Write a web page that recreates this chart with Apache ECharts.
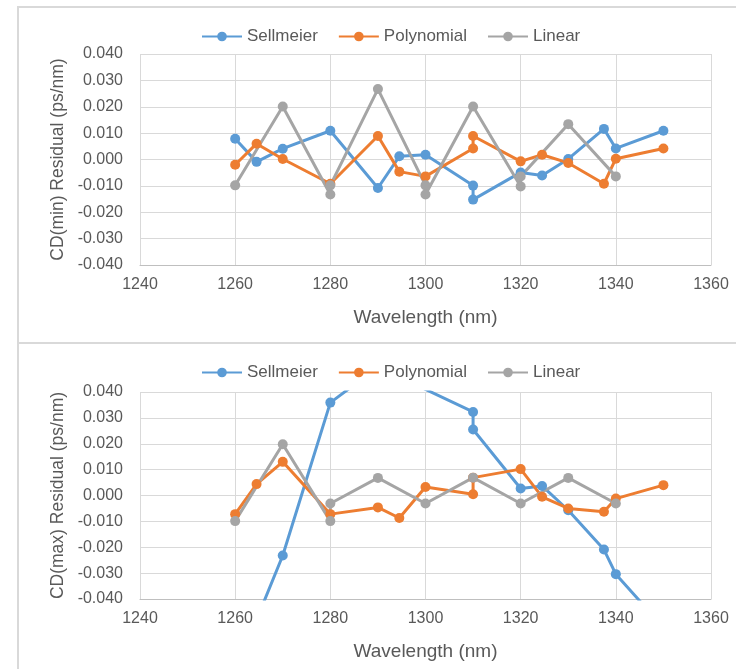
<!DOCTYPE html>
<html>
<head>
<meta charset="utf-8">
<script src="https://cdn.jsdelivr.net/npm/echarts@6/dist/echarts.min.js"></script>
<style>
  html, body { margin: 0; padding: 0; background: #fff; }
  #chart { width: 736px; height: 669px; }
</style>
</head>
<body>
<div id="chart"></div>
<script>
// wavelengths (nm) shared by Sellmeier and Polynomial fits
const wavelengths = [1260, 1264.5, 1270, 1280, 1290, 1294.5, 1300, 1310, 1310, 1320, 1324.5, 1330, 1337.5, 1340, 1350];

// CD(min) residuals
const minSellmeier = [0.0079, -0.0009, 0.0041, 0.0109, -0.0108, 0.0012, 0.0018, -0.0099, -0.0152, -0.0049, -0.0061, 0.0002, 0.0116, 0.0042, 0.0109];
const minPolynomial = [-0.002, 0.006, 0.0002, -0.0092, 0.0089, -0.0046, -0.0064, 0.0042, 0.0089, -0.0007, 0.0018, -0.0013, -0.0092, 0.0003, 0.0042];
const minLinearX = [1260, 1270, 1280, 1280, 1290, 1300, 1300, 1310, 1320, 1320, 1330, 1340];
const minLinear = [-0.0098, 0.0201, -0.0133, -0.0098, 0.0267, -0.0098, -0.0133, 0.0201, -0.0102, -0.0064, 0.0134, -0.0064];

// CD(max) residuals
const maxSellmeier = [-0.062, -0.048, -0.0232, 0.0359, 0.0496, 0.047, 0.041, 0.0323, 0.0255, 0.0027, 0.0037, -0.0057, -0.0209, -0.0304, -0.051];
const maxPolynomial = [-0.0072, 0.0044, 0.013, -0.0072, -0.0046, -0.0087, 0.0033, 0.0005, 0.0069, 0.0102, -0.0005, -0.005, -0.0063, -0.0012, 0.004];
const maxLinearX = [1260, 1270, 1280, 1280, 1290, 1300, 1310, 1320, 1330, 1340];
const maxLinear = [-0.0099, 0.0198, -0.0099, -0.0031, 0.0068, -0.0031, 0.0069, -0.0031, 0.0068, -0.0031];

const seriesNames = ["Sellmeier", "Polynomial", "Linear"];
const colors = ["#5B9BD5", "#ED7D31", "#A5A5A5"];

const FONT = "Liberation Sans";
const TEXT = "#595959";
const GRIDLINE = "#D9D9D9";

function zip(xs, ys) {
  return xs.map((x, i) => [x, ys[i]]);
}

function makeLegend(top) {
  return {
    top: top,
    left: 201,
    padding: 0,
    itemWidth: 40,
    itemHeight: 12,
    itemGap: 20,
    data: seriesNames,
    textStyle: { fontFamily: FONT, fontSize: 17, color: TEXT },
    selectedMode: false,
  };
}

function makeXAxis(gridIndex) {
  return {
    gridIndex: gridIndex,
    type: "value",
    min: 1240,
    max: 1360,
    interval: 20,
    name: "Wavelength (nm)",
    nameLocation: "middle",
    nameGap: 43,
    nameTextStyle: { fontFamily: FONT, fontSize: 19, color: TEXT },
    axisLine: { show: true, onZero: false, lineStyle: { color: "#BFBFBF", width: 1 } },
    axisTick: { show: false },
    axisLabel: {
      margin: 12,
      fontFamily: FONT,
      fontSize: 16,
      color: TEXT,
      formatter: (v) => String(v),
    },
    splitLine: { show: true, lineStyle: { color: GRIDLINE, width: 1 } },
  };
}

function makeYAxis(gridIndex, title) {
  return {
    gridIndex: gridIndex,
    type: "value",
    min: -0.04,
    max: 0.04,
    interval: 0.01,
    name: title,
    nameLocation: "middle",
    nameRotate: 90,
    nameGap: 70,
    nameTextStyle: { fontFamily: FONT, fontSize: 17.5, color: TEXT },
    axisLine: { show: false },
    axisTick: { show: false },
    axisLabel: {
      margin: 17,
      fontFamily: FONT,
      fontSize: 16,
      color: TEXT,
      formatter: (v) => v.toFixed(3),
    },
    splitLine: { show: true, lineStyle: { color: GRIDLINE, width: 1 } },
  };
}

function makeSeries(name, color, data, axisIndex) {
  return {
    name: name,
    type: "line",
    xAxisIndex: axisIndex,
    yAxisIndex: axisIndex,
    data: data,
    color: color,
    symbol: "circle",
    symbolSize: 10,
    showAllSymbol: true,
    clip: true,
    animation: false,
    lineStyle: { width: 3, color: color },
    itemStyle: { color: color },
  };
}

const chart = echarts.init(document.getElementById("chart"), null, { renderer: "canvas" });

const option = {
  backgroundColor: "#fff",
  animation: false,
  graphic: [
    {
      type: "rect",
      shape: { x: 18, y: 7, width: 740, height: 336 },
      style: { fill: "none", stroke: GRIDLINE, lineWidth: 2 },
      silent: true,
    },
    {
      type: "rect",
      shape: { x: 18, y: 343, width: 740, height: 340 },
      style: { fill: "none", stroke: GRIDLINE, lineWidth: 2 },
      silent: true,
    },
  ],
  legend: [makeLegend(28), makeLegend(364)],
  grid: [
    { left: 140, top: 54, width: 571, height: 211, containLabel: false },
    { left: 140, top: 392, width: 571, height: 207, containLabel: false },
  ],
  xAxis: [makeXAxis(0), makeXAxis(1)],
  yAxis: [
    makeYAxis(0, "CD(min) Residual (ps/nm)"),
    makeYAxis(1, "CD(max) Residual (ps/nm)"),
  ],
  series: [
    makeSeries("Sellmeier", colors[0], zip(wavelengths, minSellmeier), 0),
    makeSeries("Polynomial", colors[1], zip(wavelengths, minPolynomial), 0),
    makeSeries("Linear", colors[2], zip(minLinearX, minLinear), 0),
    makeSeries("Sellmeier", colors[0], zip(wavelengths, maxSellmeier), 1),
    makeSeries("Polynomial", colors[1], zip(wavelengths, maxPolynomial), 1),
    makeSeries("Linear", colors[2], zip(maxLinearX, maxLinear), 1),
  ],
};

chart.setOption(option);
</script>
</body>
</html>
